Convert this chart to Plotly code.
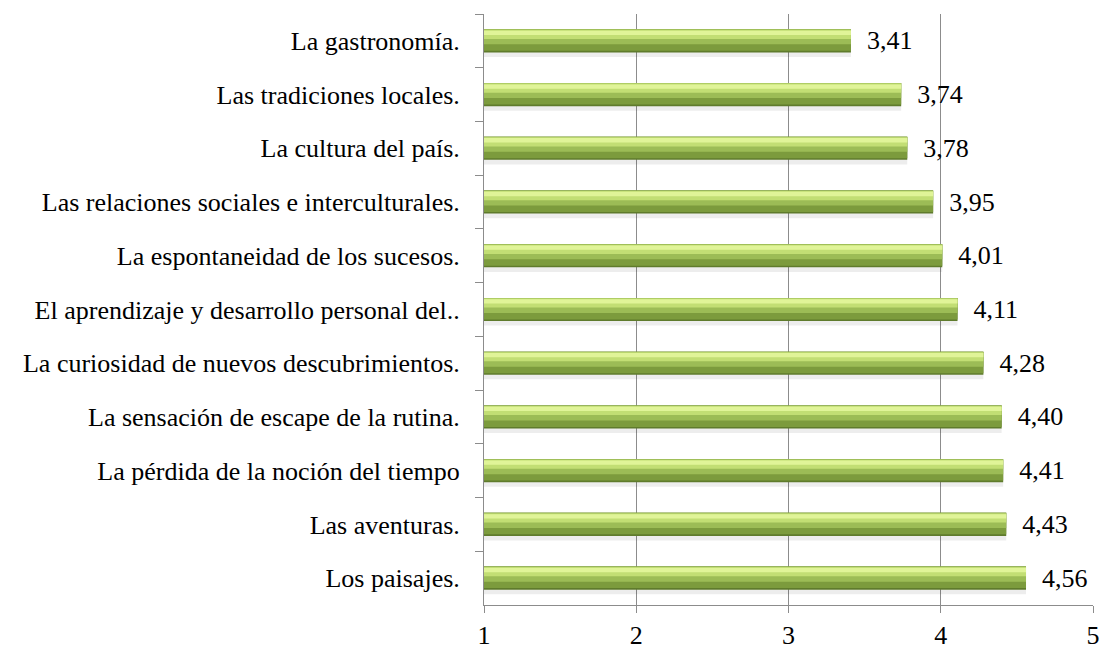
import plotly.graph_objects as go

categories = [
    "La gastronomía.",
    "Las tradiciones locales.",
    "La cultura del país.",
    "Las relaciones sociales e interculturales.",
    "La espontaneidad de los sucesos.",
    "El aprendizaje y desarrollo personal del..",
    "La curiosidad de nuevos descubrimientos.",
    "La sensación de escape de la rutina.",
    "La pérdida de la noción del tiempo",
    "Las aventuras.",
    "Los paisajes.",
]
values = [3.41, 3.74, 3.78, 3.95, 4.01, 4.11, 4.28, 4.40, 4.41, 4.43, 4.56]
x_ticks = [1, 2, 3, 4, 5]

FONT = "Liberation Serif, Times New Roman, serif"
FS = 26
fig = go.Figure()

# bar layers (overlay) to imitate the gradient look
layers = [
    # (offset, width, color)
    (-0.12, 0.42, "rgba(0,0,0,0.07)"),   # soft shadow
    (-0.215, 0.43, "#5f7b2c"),          # dark bottom edge
    (-0.215, 0.40, "#7c9b3d"),          # darker lower part
    (-0.215, 0.28, "#9cbc56"),          # main green
    (-0.205, 0.17, "#c2de74"),          # light
    (-0.19, 0.08, "#e0f498"),           # highlight
]
for off, w, col in layers:
    fig.add_trace(go.Bar(
        y=categories, x=values, orientation="h",
        offset=off, width=w,
        marker=dict(color=col, line=dict(width=0)),
        hoverinfo="skip", showlegend=False,
    ))

# value labels on the main bar
fig.add_trace(go.Bar(
    y=categories, x=values, orientation="h",
    offset=-0.215, width=0.43,
    marker=dict(color="rgba(0,0,0,0)", line=dict(width=0)),
    texttemplate="\u00a0\u00a0%{x:.2f}", textposition="outside",
    constraintext="none",
    textfont=dict(family=FONT, size=FS, color="black"),
    cliponaxis=False, showlegend=False, hoverinfo="skip",
))

fig.update_layout(
    width=1100, height=646,
    barmode="overlay",
    separators=",.",
    paper_bgcolor="white", plot_bgcolor="white",
    margin=dict(l=484, r=7, t=14, b=41),
    font=dict(family=FONT, size=FS, color="black"),
    hovermode=False,
    xaxis=dict(
        range=[1, 5], tickvals=x_ticks, ticktext=[str(v) for v in x_ticks],
        showgrid=True, gridcolor="#8c8c8c", gridwidth=1,
        showline=True, linecolor="#8c8c8c", linewidth=1,
        ticks="outside", ticklen=7, tickcolor="#8c8c8c",
        zeroline=False, automargin=False,
    ),
    yaxis=dict(
        type="category", autorange="reversed",
        tickson="boundaries", ticks="outside", ticklen=8, tickcolor="#8c8c8c",
        showline=True, linecolor="#8c8c8c", linewidth=1,
        showgrid=False, ticklabelstandoff=18, automargin=False,
    ),
)

# remove the default page margin so the 1100x646 figure fills the window exactly
fig.write_html(
    "out.html",
    config={"displayModeBar": False, "staticPlot": True},
    post_script="document.body.style.margin='0';document.body.style.overflow='hidden';",
)
